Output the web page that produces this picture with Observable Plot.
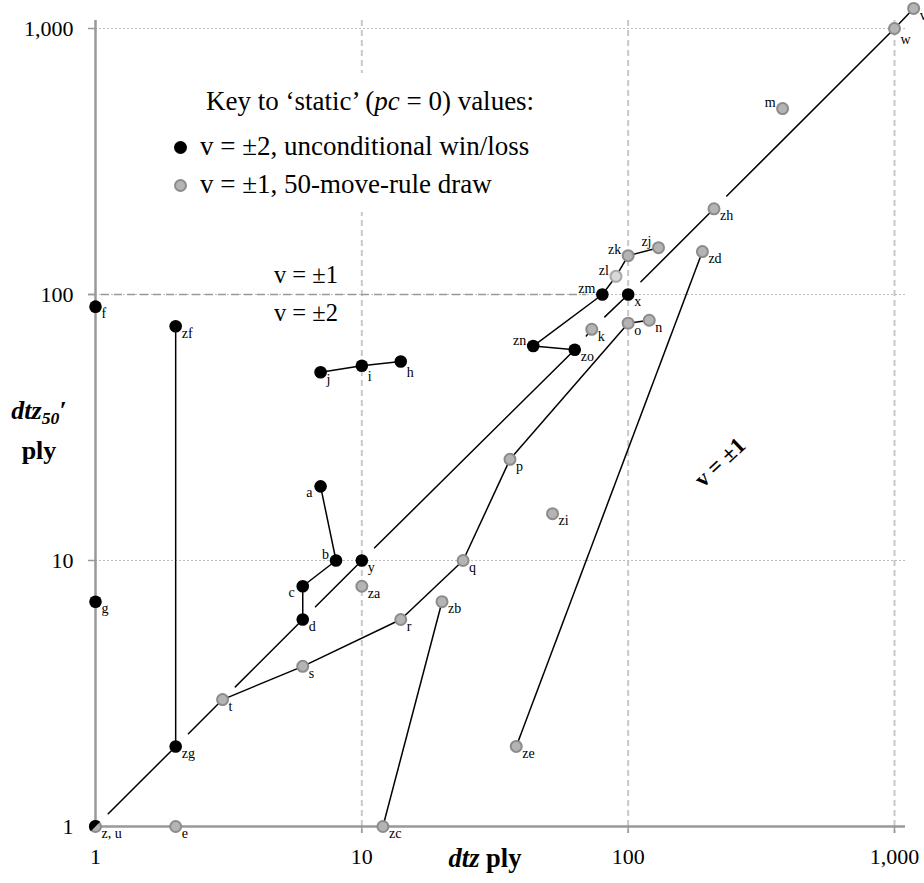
<!DOCTYPE html>
<html><head><meta charset="utf-8">
<script src="https://cdn.jsdelivr.net/npm/d3@7"></script>
<script src="https://cdn.jsdelivr.net/npm/@observablehq/plot@0.6"></script>
<style>
html,body{margin:0;padding:0;background:#fff;overflow:hidden;}
#wrap{position:relative;width:924px;height:883px;font-family:"Liberation Serif","Times New Roman",serif;color:#000;}
#wrap svg{position:absolute;left:0;top:0;}
.ov{position:absolute;white-space:nowrap;font-size:27px;line-height:27px;}
.dot{position:absolute;width:13px;height:13px;border-radius:50%;box-sizing:border-box;}
</style></head><body><div id="wrap"></div>
<script>
// ---- data ----
const names = ["z","u","e","zc","f","g","zf","zg","t","s","r","zb","q","p","zi","ze","zd","zh","m","w","v","zk","zj","zl","zm","x","o","n","k","a","b","c","d","y","za","j","i","h","zn","zo"];
const dtz   = [1,1,2,12,1,1,2,2,3,6,14,20,24,36,52,38,190,210,380,1000,1180,100,130,90,80,100,100,120,73,7,8,6,6,10,10,7,10,14,44,63];
const dtz50 = [1,1,1,1,90,7,76,2,3,4,6,7,10,24,15,2,145,210,500,1000,1190,140,150,117,100,100,78,80,74,19,10,8,6,10,8,51,54,56,64,62];
const vAbs  = [2,1,1,1,2,2,2,2,1,1,1,1,1,1,1,1,1,1,1,1,1,1,1,1,2,2,1,1,1,2,2,2,2,2,1,2,2,2,2,2];
const pointText = names.map(n => n === "z" ? "z, u" : n === "u" ? "" : n);

// plain connecting lines
const links = [["zg","zf"],["t","s"],["s","r"],["r","q"],["q","p"],["p","o"],["o","n"],
  ["d","c"],["c","b"],["b","a"],["zo","zn"],["zn","zm"],["zm","zl"],["zl","zk"],["zk","zj"],
  ["zd","ze"],["zb","zc"],["j","i"],["i","h"],["w","v"]];
// lines that start with a gap at their source point
const gappedLinks = [["z","zg"],["zg","t"],["t","d"],["d","y"],["y","zo"],["zo","k"],["k","x"],["x","zh"],["zh","w"]];

const tickValues = [1,10,100,1000];
const gridValues = [10,100,1000];
const threshold = 100;        // v = ±1 / v = ±2 boundary on dtz50'
const thresholdEndDtz = 70;   // dashed part of the boundary
const thresholdLabels = ["v = ±1","v = ±2"];
const thresholdLabelDtz = 6.17;
const regionLabel = {text:"v = ±1", dtz:221, dtz50:23.4};

// ---- label placement (style) ----
const labelPlace = {a:"w", c:"w", b:"nw", zn:"nw", zm:"nw", zl:"nw", zk:"nw", zj:"nw", m:"nw", h:"s", i:"s", w:"s"};
const places = {
  se:{dx:6, dy:7, textAnchor:"start"},
  s:{dx:6, dy:11, textAnchor:"start"},
  w:{dx:-8, dy:6, textAnchor:"end"},
  nw:{dx:-7, dy:-6, textAnchor:"end"}
};

const pts = names.map((n,i)=>({name:n, dtz:dtz[i], dtz50:dtz50[i], v:vAbs[i], text:pointText[i], place:labelPlace[n]||"se"}));
const byName = Object.fromEntries(pts.map(d=>[d.name,d]));
const toSeg = ([a,b]) => ({x1:byName[a].dtz, y1:byName[a].dtz50, x2:byName[b].dtz, y2:byName[b].dtz50});
const linkData = links.map(toSeg);
const gapData = gappedLinks.map(toSeg);

const halfDisc = {draw(ctx, size){
  const r = Math.sqrt(size/Math.PI);
  const a0 = 3*Math.PI/4, a1 = 7*Math.PI/4;
  ctx.moveTo(r*Math.cos(a0), r*Math.sin(a0));
  ctx.arc(0,0,r,a0,a1);
  ctx.closePath();
}};

const GREY_FILL="#b4b4b4", GREY_STROKE="#8c8c8c";

const labelMarks = Object.entries(places).map(([k,p]) =>
  Plot.text(pts.filter(d=>d.place===k && d.text), {x:"dtz", y:"dtz50", text:"text", dx:p.dx, dy:p.dy, textAnchor:p.textAnchor, fontSize:14}));

const chart = Plot.plot({
  width:924, height:883,
  marginLeft:95, marginRight:30, marginTop:28, marginBottom:57,
  x:{type:"log", domain:[1,1000], label:null},
  y:{type:"log", domain:[1,1000], label:null},
  style:{fontFamily:'"Liberation Serif","Times New Roman",serif', background:"white", color:"black"},
  marks:[
    Plot.gridX(gridValues, {stroke:"#c8c8c8", strokeOpacity:1, strokeWidth:2, strokeDasharray:"6,4", insetTop:-8, insetBottom:-7}),
    Plot.gridY(gridValues, {stroke:"#bdbdbd", strokeOpacity:1, strokeWidth:1, strokeDasharray:"2,2", insetRight:-11}),
    Plot.ruleY([threshold], {x1:1, x2:thresholdEndDtz, stroke:"#999", strokeWidth:1.6, strokeDasharray:"8,5", insetLeft:-7}),
    Plot.ruleX([1], {stroke:"#999", strokeWidth:2.5, insetTop:-8}),
    Plot.ruleY([1], {stroke:"#999", strokeWidth:2.5, insetRight:-11}),
    Plot.axisY({ticks:gridValues, tickSize:7, tickFormat:()=>"", stroke:"#999", strokeWidth:1.5, label:null}),
    Plot.axisX({ticks:gridValues, tickSize:7, tickFormat:()=>"", stroke:"#999", strokeWidth:1.5, label:null}),
    Plot.axisY({ticks:tickValues, tickSize:0, tickPadding:22, tickFormat:d3.format(","), fontSize:22, label:null}),
    Plot.axisX({ticks:tickValues, tickSize:0, tickPadding:22, tickFormat:d3.format(","), fontSize:22, label:null}),
    Plot.link(linkData, {x1:"x1", y1:"y1", x2:"x2", y2:"y2", stroke:"black", strokeWidth:1.5}),
    Plot.arrow(gapData, {x1:"x1", y1:"y1", x2:"x2", y2:"y2", stroke:"black", strokeWidth:1.5, insetStart:18, headLength:0}),
    Plot.dot(pts.filter(d=>d.v===1 && d.name!=="zl"), {x:"dtz", y:"dtz50", r:5.5, fill:GREY_FILL, stroke:GREY_STROKE, strokeWidth:2}),
    Plot.dot(pts.filter(d=>d.name==="zl"), {x:"dtz", y:"dtz50", r:5.5, fill:"#d8d8d8", stroke:"#a8a8a8", strokeWidth:2}),
    Plot.dot(pts.filter(d=>d.v===2 && d.name!=="z"), {x:"dtz", y:"dtz50", r:6.3, fill:"black"}),
    Plot.dot(pts.filter(d=>d.name==="z"), {x:"dtz", y:"dtz50", r:6.6, fill:"black", symbol:halfDisc}),
    ...labelMarks,
    Plot.text([thresholdLabels[0]], {x:()=>thresholdLabelDtz, y:()=>threshold, text:d=>d, dy:-19, fontSize:24.5}),
    Plot.text([thresholdLabels[1]], {x:()=>thresholdLabelDtz, y:()=>threshold, text:d=>d, dy:19, fontSize:24.5}),
    Plot.text([regionLabel], {x:"dtz", y:"dtz50", text:"text", rotate:-43, fontSize:23, fontWeight:"bold"})
  ]
});

const wrap = document.getElementById("wrap");
wrap.appendChild(chart);

function ov(html, css){ const d=document.createElement("div"); d.className="ov"; d.innerHTML=html; Object.assign(d.style, css); wrap.appendChild(d); return d; }
// legend (white box over the grid)
const bg = document.createElement("div");
Object.assign(bg.style,{position:"absolute", left:"165px", top:"73px", width:"380px", height:"139px", background:"white"});
wrap.appendChild(bg);
ov("Key to ‘static’ (<i>pc</i> = 0) values:", {left:"206px", top:"87.5px"});
const d1=document.createElement("div"); d1.className="dot"; Object.assign(d1.style,{left:"173.5px", top:"140.5px", background:"black"}); wrap.appendChild(d1);
ov("v = ±2, unconditional win/loss", {left:"200px", top:"132.5px"});
const d2=document.createElement("div"); d2.className="dot"; Object.assign(d2.style,{left:"173.5px", top:"178.5px", background:GREY_FILL, border:"2px solid "+GREY_STROKE}); wrap.appendChild(d2);
ov("v = ±1, 50-move-rule draw", {left:"200px", top:"170.5px"});
// axis titles
ov("<b><i>dtz</i> ply</b>", {left:"385px", width:"200px", textAlign:"center", top:"845px", fontSize:"26.5px", lineHeight:"26.5px"});
ov("<b><i>dtz<sub style='font-size:0.68em;vertical-align:-0.28em;line-height:0'>50</sub>′</i></b>", {left:"0px", width:"78px", textAlign:"center", top:"398px", fontSize:"26px", lineHeight:"26px"});
ov("<b>ply</b>", {left:"0px", width:"78px", textAlign:"center", top:"438px", fontSize:"26px", lineHeight:"26px"});
</script></body></html>
